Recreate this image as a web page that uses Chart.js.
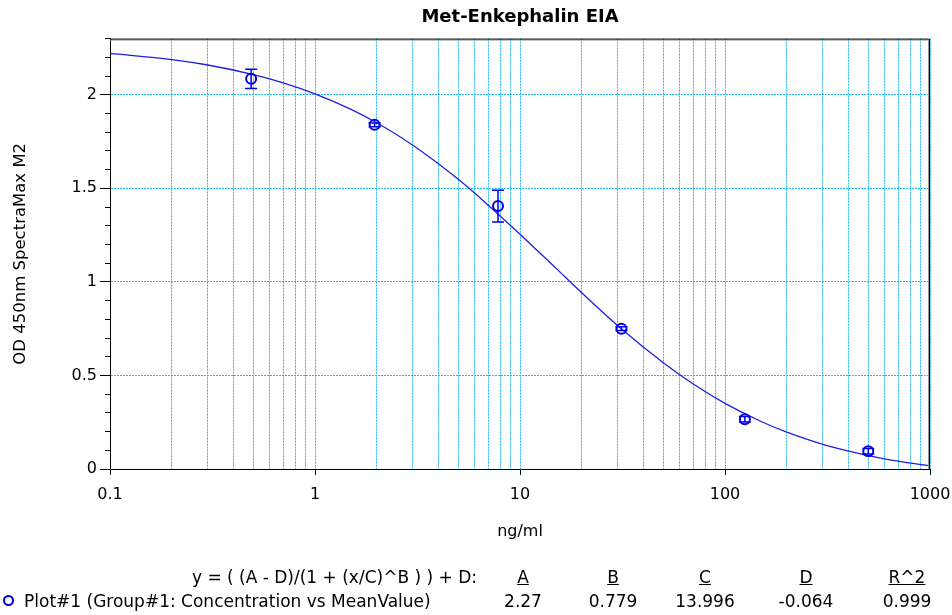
<!DOCTYPE html>
<html>
<head>
<meta charset="utf-8">
<title>Met-Enkephalin EIA</title>
<script src="https://cdn.jsdelivr.net/npm/chart.js@4/dist/chart.umd.min.js"></script>
<style>
  body { margin: 0; background: #fff; }
  #wrap { position: relative; width: 952px; height: 615px; font-family: "DejaVu Sans", sans-serif; font-size: 17px; color: #000; }
  #wrap canvas { position: absolute; left: 0; top: 0; }
  .lg { position: absolute; line-height: 18px; white-space: nowrap; }
  .c { transform: translateX(-50%); }
  .u { text-decoration: underline; }
  .dot { position: absolute; left: 3px; top: 595px; width: 7px; height: 7px; border: 2px solid #0000e0; border-radius: 50%; }
</style>
</head>
<body>
<div id="wrap">
  <canvas id="myChart" width="952" height="615"></canvas>
  <div class="lg" id="formula" style="right:475px; top:568px;"></div>
  <div class="dot"></div>
  <div class="lg" id="plotName" style="left:24px; top:592px;"></div>
</div>
<script>
// standard points (4x dilution series) and their mean OD
var concentrations = [0.488, 1.953, 7.813, 31.25, 125, 500];
var meanOD = [2.085, 1.839, 1.405, 0.750, 0.266, 0.095];
var odError = [0.051, 0.010, 0.085, 0.010, 0.015, 0.015];

// fitted 4PL curve
var curveX = [0.1, 0.2, 0.3, 0.5, 0.7, 1, 1.5, 2, 3, 5, 7, 10, 15, 20, 30, 50, 70, 100, 150, 200, 300, 500, 700, 1000];
var curveOD = [2.221, 2.188, 2.159, 2.108, 2.064, 2.005, 1.922, 1.850, 1.730, 1.548, 1.410, 1.255, 1.072, 0.942, 0.766, 0.568, 0.454, 0.351, 0.254, 0.197, 0.132, 0.072, 0.042, 0.017];

// fit parameters shown under the chart
var paramNames = ['A', 'B', 'C', 'D', 'R^2'];
var paramValues = ['2.27', '0.779', '13.996', '-0.064', '0.999'];
var paramCenters = [523, 613, 705, 806, 907];

// x ticks: every 1..9 of each decade, labels only on decades
var xTicks = [0.1, 0.2, 0.3, 0.4, 0.5, 0.6, 0.7, 0.8, 0.9,
              1, 2, 3, 4, 5, 6, 7, 8, 9,
              10, 20, 30, 40, 50, 60, 70, 80, 90,
              100, 200, 300, 400, 500, 600, 700, 800, 900, 1000];
var xLabels = {0.1: '0.1', 1: '1', 10: '10', 100: '100', 1000: '1000'};

var gridColor = '#20b8f0';
var markColor = '#0000e0';
var lineColor = '#2020e0';

document.getElementById('formula').textContent = 'y = ( (A - D)/(1 + (x/C)^B ) ) + D:';
document.getElementById('plotName').textContent = 'Plot#1 (Group#1: Concentration vs MeanValue)';
var wrap = document.getElementById('wrap');
for (var i = 0; i < paramNames.length; i++) {
    var h = document.createElement('div');
    h.className = 'lg c u';
    h.style.left = paramCenters[i] + 'px';
    h.style.top = '568px';
    h.textContent = paramNames[i];
    wrap.appendChild(h);
    var v = document.createElement('div');
    v.className = 'lg c';
    v.style.left = paramCenters[i] + 'px';
    v.style.top = '592px';
    v.textContent = paramValues[i];
    wrap.appendChild(v);
}

// error bar segments, broken by null points
var errorData = [];
for (var j = 0; j < concentrations.length; j++) {
    errorData.push({x: concentrations[j], y: meanOD[j] - odError[j]});
    errorData.push({x: concentrations[j], y: meanOD[j] + odError[j]});
    errorData.push({x: concentrations[j], y: null});
}

// top and right frame lines
var framePlugin = {
    id: 'frame',
    afterDraw: function(chart) {
        var a = chart.chartArea, ctx = chart.ctx;
        ctx.save();
        ctx.strokeStyle = '#999';
        ctx.lineWidth = 1;
        ctx.beginPath();
        ctx.moveTo(a.left, a.top + 1.5);
        ctx.lineTo(a.right - 1.5, a.top + 1.5);
        ctx.lineTo(a.right - 1.5, a.bottom);
        ctx.stroke();
        ctx.strokeStyle = '#000';
        ctx.beginPath();
        ctx.moveTo(a.left, a.top + 0.5);
        ctx.lineTo(a.right - 0.5, a.top + 0.5);
        ctx.lineTo(a.right - 0.5, a.bottom);
        ctx.stroke();
        ctx.restore();
    }
};

Chart.defaults.font.family = '"DejaVu Sans", sans-serif';
Chart.defaults.color = '#000';

var ctx = document.getElementById('myChart').getContext('2d');
var myChart = new Chart(ctx, {
    type: 'scatter',
    data: {
        datasets: [{
            label: 'MeanValue',
            data: concentrations.map(function(x, i) { return {x: x, y: meanOD[i]}; }),
            pointStyle: 'circle',
            pointRadius: 5,
            pointBorderWidth: 2,
            pointBorderColor: markColor,
            pointBackgroundColor: 'rgba(0,0,0,0)',
            showLine: false
        }, {
            label: 'error',
            data: errorData,
            showLine: true,
            spanGaps: false,
            borderColor: markColor,
            borderWidth: 1.5,
            pointStyle: 'line',
            pointRadius: 6,
            pointBorderWidth: 1.5,
            pointBorderColor: markColor
        }, {
            label: 'fit',
            data: curveX.map(function(x, i) { return {x: x, y: curveOD[i]}; }),
            showLine: true,
            borderColor: lineColor,
            borderWidth: 1.3,
            pointRadius: 0,
            cubicInterpolationMode: 'monotone'
        }]
    },
    options: {
        responsive: false,
        animation: false,
        devicePixelRatio: 1,
        layout: { padding: { left: 0, right: 22, top: 0, bottom: 0 } },
        plugins: {
            legend: { display: false },
            tooltip: { enabled: false },
            title: {
                display: true,
                text: 'Met-Enkephalin EIA',
                fullSize: false,
                font: { size: 18, weight: 'bold' },
                padding: { top: 7, bottom: 10 }
            }
        },
        scales: {
            x: {
                type: 'logarithmic',
                min: 0.1,
                max: 1000,
                afterBuildTicks: function(axis) {
                    axis.ticks = xTicks.map(function(v) { return {value: v}; });
                },
                afterFit: function(s) {
                    s.height = 146;
                    s.paddingLeft = 0;
                    s.paddingRight = 0;
                },
                ticks: {
                    autoSkip: false,
                    maxRotation: 0,
                    padding: 10,
                    font: { size: 16 },
                    callback: function(value) { return xLabels[value] || ''; }
                },
                grid: {
                    color: function(c) { return (c.tick && c.tick.value > 0.1) ? gridColor : 'rgba(0,0,0,0)'; },
                    tickColor: function(c) { return (c.tick && xLabels[c.tick.value]) ? '#000' : 'rgba(0,0,0,0)'; },
                    tickLength: 6,
                    lineWidth: 1
                },
                border: { color: '#000', width: 1, dash: [2, 1] },
                title: {
                    display: true,
                    text: 'ng/ml',
                    font: { size: 16 },
                    padding: { top: 0, bottom: 74 }
                }
            },
            y: {
                min: 0,
                max: 2.3,
                weight: 1,
                afterFit: function(s) { s.width = 110; },
                ticks: {
                    stepSize: 0.5,
                    includeBounds: false,
                    padding: 3,
                    font: { size: 16 },
                    callback: function(value) { return value.toString(); }
                },
                grid: {
                    color: function(c) { return (c.tick && c.tick.value > 0) ? gridColor : 'rgba(0,0,0,0)'; },
                    tickColor: '#000',
                    tickLength: 10
                },
                border: { color: '#000', width: 1, dash: [2, 1] },
                title: {
                    display: true,
                    text: 'OD 450nm SpectraMax M2',
                    font: { size: 16.5 },
                    padding: { top: 11, bottom: 0 }
                }
            },
            yMinor: {
                type: 'linear',
                position: 'left',
                min: 0,
                max: 2.3,
                weight: 0,
                afterFit: function(s) { s.width = 0; },
                ticks: { stepSize: 0.1, display: false },
                grid: { drawOnChartArea: false, tickColor: '#000', tickLength: 5 },
                border: { display: false }
            }
        }
    },
    plugins: [framePlugin]
});
</script>
</body>
</html>
